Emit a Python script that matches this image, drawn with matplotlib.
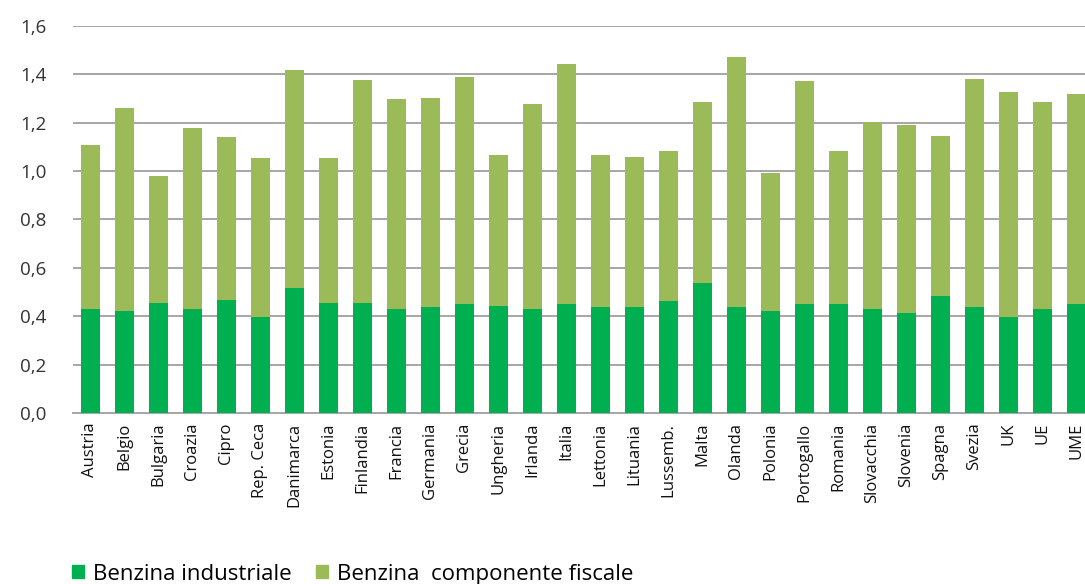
import matplotlib.pyplot as plt
from matplotlib.patches import Patch
import numpy as np

plt.rcParams['font.family'] = ['Open Sans', 'DejaVu Sans']

paesi = ['Austria', 'Belgio', 'Bulgaria', 'Croazia', 'Cipro', 'Rep. Ceca',
         'Danimarca', 'Estonia', 'Finlandia', 'Francia', 'Germania', 'Grecia',
         'Ungheria', 'Irlanda', 'Italia', 'Lettonia', 'Lituania', 'Lussemb.',
         'Malta', 'Olanda', 'Polonia', 'Portogallo', 'Romania', 'Slovacchia',
         'Slovenia', 'Spagna', 'Svezia', 'UK', 'UE', 'UME']

# prezzo industriale (euro/litro)
industriale = [0.430, 0.423, 0.456, 0.430, 0.467, 0.395, 0.515, 0.456, 0.456, 0.430,
               0.440, 0.449, 0.443, 0.430, 0.452, 0.440, 0.440, 0.464, 0.536, 0.440,
               0.420, 0.449, 0.449, 0.430, 0.413, 0.483, 0.440, 0.398, 0.432, 0.449]

# prezzo totale al consumo
totale = [1.107, 1.262, 0.981, 1.179, 1.142, 1.054, 1.416, 1.056, 1.376, 1.298,
          1.302, 1.391, 1.065, 1.278, 1.441, 1.067, 1.060, 1.085, 1.285, 1.473,
          0.994, 1.373, 1.084, 1.202, 1.191, 1.146, 1.380, 1.328, 1.286, 1.317]

fiscale = np.array(totale) - np.array(industriale)

c_ind = '#00B050'
c_fis = '#9BBB59'

fig = plt.figure(figsize=(10.85, 5.84), dpi=100)
ax = fig.add_axes([0.0673, 0.2928, 0.9327, 0.6627])

x = np.arange(len(paesi))
ax.bar(x, industriale, width=0.56, color=c_ind, zorder=3)
ax.bar(x, fiscale, width=0.56, bottom=industriale, color=c_fis, zorder=3)

ax.set_ylim(0, 1.6)
ax.set_xlim(-0.5, 29.26)
yt = np.arange(0, 1.61, 0.2)
ax.set_yticks(yt)
ax.set_yticklabels([f'{v:.1f}'.replace('.', ',') for v in yt], fontsize=13.5, color='#333333')
ax.set_xticks(x)
ax.set_xticklabels(paesi, rotation=90, fontsize=12, color='#111111')
ax.tick_params(axis='y', length=0, pad=19)
ax.tick_params(axis='x', length=0, pad=7)
ax.grid(axis='y', color='#a6a6a6', linewidth=1.4, zorder=0)
for s in ['top', 'right', 'left']:
    ax.spines[s].set_visible(False)
ax.spines['bottom'].set_color('#a6a6a6')
ax.spines['bottom'].set_linewidth(1.4)

handles = [Patch(color=c_ind), Patch(color=c_fis)]
fig.legend(handles, ['Benzina industriale', 'Benzina  componente fiscale'],
           loc='center left', bbox_to_anchor=(0.058, 0.017), ncol=2, frameon=False,
           fontsize=16, handlelength=0.55, handleheight=0.55, handletextpad=0.4,
           columnspacing=1.1, borderaxespad=0)

fig.savefig('out.png', dpi=100)
